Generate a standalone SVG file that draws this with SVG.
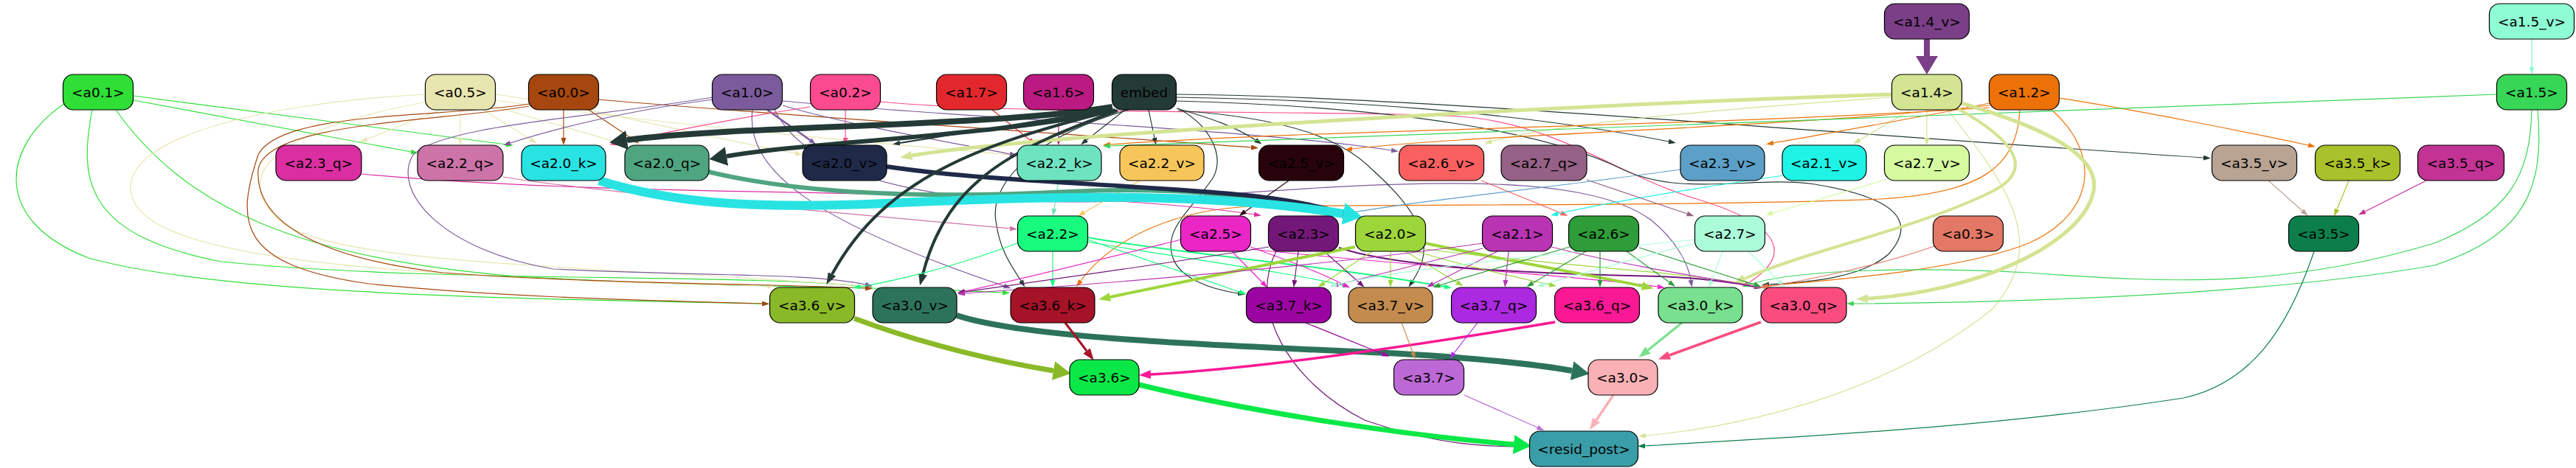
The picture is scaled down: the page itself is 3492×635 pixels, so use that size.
<svg xmlns="http://www.w3.org/2000/svg" width="3492" height="635" viewBox="0 0 3492 635">
<style>
.n rect{stroke:#000;stroke-width:1.2}
.n text{font-family:"DejaVu Sans","Liberation Sans",sans-serif;font-size:18.5px;text-anchor:middle;fill:#000}
</style>
<defs>
<marker id="s-embed" markerUnits="userSpaceOnUse" markerWidth="10" markerHeight="7" refX="0" refY="3.5" orient="auto"><path d="M0,0L10,3.5L0,7z" fill="#243a36"/></marker>
<marker id="m-embed" markerUnits="userSpaceOnUse" markerWidth="16" markerHeight="12" refX="0" refY="6" orient="auto"><path d="M0,0L16,6L0,12z" fill="#243a36"/></marker>
<marker id="l-embed" markerUnits="userSpaceOnUse" markerWidth="24" markerHeight="26" refX="0" refY="13" orient="auto"><path d="M0,0L24,13L0,26z" fill="#243a36"/></marker>
<marker id="l-a14v" markerUnits="userSpaceOnUse" markerWidth="25" markerHeight="30" refX="0" refY="15" orient="auto"><path d="M0,0L25,15L0,30z" fill="#7a3f86"/></marker>
<marker id="s-a15v" markerUnits="userSpaceOnUse" markerWidth="10" markerHeight="7" refX="0" refY="3.5" orient="auto"><path d="M0,0L10,3.5L0,7z" fill="#8efdd3"/></marker>
<marker id="s-a01" markerUnits="userSpaceOnUse" markerWidth="10" markerHeight="7" refX="0" refY="3.5" orient="auto"><path d="M0,0L10,3.5L0,7z" fill="#2fdf36"/></marker>
<marker id="s-a05" markerUnits="userSpaceOnUse" markerWidth="10" markerHeight="7" refX="0" refY="3.5" orient="auto"><path d="M0,0L10,3.5L0,7z" fill="#e8e6b0"/></marker>
<marker id="s-a00" markerUnits="userSpaceOnUse" markerWidth="10" markerHeight="7" refX="0" refY="3.5" orient="auto"><path d="M0,0L10,3.5L0,7z" fill="#a5470f"/></marker>
<marker id="s-a10" markerUnits="userSpaceOnUse" markerWidth="10" markerHeight="7" refX="0" refY="3.5" orient="auto"><path d="M0,0L10,3.5L0,7z" fill="#7b5b9b"/></marker>
<marker id="s-a02" markerUnits="userSpaceOnUse" markerWidth="10" markerHeight="7" refX="0" refY="3.5" orient="auto"><path d="M0,0L10,3.5L0,7z" fill="#fb4b8f"/></marker>
<marker id="s-a17" markerUnits="userSpaceOnUse" markerWidth="10" markerHeight="7" refX="0" refY="3.5" orient="auto"><path d="M0,0L10,3.5L0,7z" fill="#e3282d"/></marker>
<marker id="s-a16" markerUnits="userSpaceOnUse" markerWidth="10" markerHeight="7" refX="0" refY="3.5" orient="auto"><path d="M0,0L10,3.5L0,7z" fill="#bb1a82"/></marker>
<marker id="s-a14" markerUnits="userSpaceOnUse" markerWidth="10" markerHeight="7" refX="0" refY="3.5" orient="auto"><path d="M0,0L10,3.5L0,7z" fill="#d3e493"/></marker>
<marker id="m-a14" markerUnits="userSpaceOnUse" markerWidth="16" markerHeight="12" refX="0" refY="6" orient="auto"><path d="M0,0L16,6L0,12z" fill="#d3e493"/></marker>
<marker id="s-a12" markerUnits="userSpaceOnUse" markerWidth="10" markerHeight="7" refX="0" refY="3.5" orient="auto"><path d="M0,0L10,3.5L0,7z" fill="#ec7208"/></marker>
<marker id="s-a15" markerUnits="userSpaceOnUse" markerWidth="10" markerHeight="7" refX="0" refY="3.5" orient="auto"><path d="M0,0L10,3.5L0,7z" fill="#38d657"/></marker>
<marker id="s-a35" markerUnits="userSpaceOnUse" markerWidth="10" markerHeight="7" refX="0" refY="3.5" orient="auto"><path d="M0,0L10,3.5L0,7z" fill="#0c7e4b"/></marker>
<marker id="s-a35v" markerUnits="userSpaceOnUse" markerWidth="10" markerHeight="7" refX="0" refY="3.5" orient="auto"><path d="M0,0L10,3.5L0,7z" fill="#b9a393"/></marker>
<marker id="s-a35k" markerUnits="userSpaceOnUse" markerWidth="10" markerHeight="7" refX="0" refY="3.5" orient="auto"><path d="M0,0L10,3.5L0,7z" fill="#a9c12a"/></marker>
<marker id="s-a35q" markerUnits="userSpaceOnUse" markerWidth="10" markerHeight="7" refX="0" refY="3.5" orient="auto"><path d="M0,0L10,3.5L0,7z" fill="#c23394"/></marker>
<marker id="s-a23q" markerUnits="userSpaceOnUse" markerWidth="10" markerHeight="7" refX="0" refY="3.5" orient="auto"><path d="M0,0L10,3.5L0,7z" fill="#db2ea1"/></marker>
<marker id="s-a22q" markerUnits="userSpaceOnUse" markerWidth="10" markerHeight="7" refX="0" refY="3.5" orient="auto"><path d="M0,0L10,3.5L0,7z" fill="#cc73a8"/></marker>
<marker id="l-a20k" markerUnits="userSpaceOnUse" markerWidth="26" markerHeight="30" refX="0" refY="15" orient="auto"><path d="M0,0L26,15L0,30z" fill="#29e3e3"/></marker>
<marker id="m-a20q" markerUnits="userSpaceOnUse" markerWidth="16" markerHeight="12" refX="0" refY="6" orient="auto"><path d="M0,0L16,6L0,12z" fill="#4fa580"/></marker>
<marker id="m-a20v" markerUnits="userSpaceOnUse" markerWidth="16" markerHeight="12" refX="0" refY="6" orient="auto"><path d="M0,0L16,6L0,12z" fill="#1f2a49"/></marker>
<marker id="s-a22k" markerUnits="userSpaceOnUse" markerWidth="10" markerHeight="7" refX="0" refY="3.5" orient="auto"><path d="M0,0L10,3.5L0,7z" fill="#6ee3c0"/></marker>
<marker id="s-a22v" markerUnits="userSpaceOnUse" markerWidth="10" markerHeight="7" refX="0" refY="3.5" orient="auto"><path d="M0,0L10,3.5L0,7z" fill="#f7c65a"/></marker>
<marker id="s-a25v" markerUnits="userSpaceOnUse" markerWidth="10" markerHeight="7" refX="0" refY="3.5" orient="auto"><path d="M0,0L10,3.5L0,7z" fill="#28030b"/></marker>
<marker id="s-a26v" markerUnits="userSpaceOnUse" markerWidth="10" markerHeight="7" refX="0" refY="3.5" orient="auto"><path d="M0,0L10,3.5L0,7z" fill="#fa6060"/></marker>
<marker id="s-a27q" markerUnits="userSpaceOnUse" markerWidth="10" markerHeight="7" refX="0" refY="3.5" orient="auto"><path d="M0,0L10,3.5L0,7z" fill="#956186"/></marker>
<marker id="s-a23v" markerUnits="userSpaceOnUse" markerWidth="10" markerHeight="7" refX="0" refY="3.5" orient="auto"><path d="M0,0L10,3.5L0,7z" fill="#5ca0c8"/></marker>
<marker id="s-a21v" markerUnits="userSpaceOnUse" markerWidth="10" markerHeight="7" refX="0" refY="3.5" orient="auto"><path d="M0,0L10,3.5L0,7z" fill="#1ef3e6"/></marker>
<marker id="s-a27v" markerUnits="userSpaceOnUse" markerWidth="10" markerHeight="7" refX="0" refY="3.5" orient="auto"><path d="M0,0L10,3.5L0,7z" fill="#d5fa9f"/></marker>
<marker id="s-a22" markerUnits="userSpaceOnUse" markerWidth="10" markerHeight="7" refX="0" refY="3.5" orient="auto"><path d="M0,0L10,3.5L0,7z" fill="#19fb7f"/></marker>
<marker id="s-a25" markerUnits="userSpaceOnUse" markerWidth="10" markerHeight="7" refX="0" refY="3.5" orient="auto"><path d="M0,0L10,3.5L0,7z" fill="#ea26c5"/></marker>
<marker id="s-a23" markerUnits="userSpaceOnUse" markerWidth="10" markerHeight="7" refX="0" refY="3.5" orient="auto"><path d="M0,0L10,3.5L0,7z" fill="#731878"/></marker>
<marker id="s-a20" markerUnits="userSpaceOnUse" markerWidth="10" markerHeight="7" refX="0" refY="3.5" orient="auto"><path d="M0,0L10,3.5L0,7z" fill="#9dd63a"/></marker>
<marker id="m-a20" markerUnits="userSpaceOnUse" markerWidth="16" markerHeight="12" refX="0" refY="6" orient="auto"><path d="M0,0L16,6L0,12z" fill="#9dd63a"/></marker>
<marker id="s-a21" markerUnits="userSpaceOnUse" markerWidth="10" markerHeight="7" refX="0" refY="3.5" orient="auto"><path d="M0,0L10,3.5L0,7z" fill="#b934b2"/></marker>
<marker id="s-a26" markerUnits="userSpaceOnUse" markerWidth="10" markerHeight="7" refX="0" refY="3.5" orient="auto"><path d="M0,0L10,3.5L0,7z" fill="#2e9c39"/></marker>
<marker id="s-a27" markerUnits="userSpaceOnUse" markerWidth="10" markerHeight="7" refX="0" refY="3.5" orient="auto"><path d="M0,0L10,3.5L0,7z" fill="#abfcd8"/></marker>
<marker id="s-a03" markerUnits="userSpaceOnUse" markerWidth="10" markerHeight="7" refX="0" refY="3.5" orient="auto"><path d="M0,0L10,3.5L0,7z" fill="#e37866"/></marker>
<marker id="l-a36v" markerUnits="userSpaceOnUse" markerWidth="24" markerHeight="26" refX="0" refY="13" orient="auto"><path d="M0,0L24,13L0,26z" fill="#8ab928"/></marker>
<marker id="l-a30v" markerUnits="userSpaceOnUse" markerWidth="24" markerHeight="26" refX="0" refY="13" orient="auto"><path d="M0,0L24,13L0,26z" fill="#2d735b"/></marker>
<marker id="m-a36k" markerUnits="userSpaceOnUse" markerWidth="16" markerHeight="12" refX="0" refY="6" orient="auto"><path d="M0,0L16,6L0,12z" fill="#a61228"/></marker>
<marker id="m-a36q" markerUnits="userSpaceOnUse" markerWidth="16" markerHeight="12" refX="0" refY="6" orient="auto"><path d="M0,0L16,6L0,12z" fill="#fb1895"/></marker>
<marker id="m-a30k" markerUnits="userSpaceOnUse" markerWidth="16" markerHeight="12" refX="0" refY="6" orient="auto"><path d="M0,0L16,6L0,12z" fill="#78e08e"/></marker>
<marker id="m-a30q" markerUnits="userSpaceOnUse" markerWidth="16" markerHeight="12" refX="0" refY="6" orient="auto"><path d="M0,0L16,6L0,12z" fill="#fb4c7f"/></marker>
<marker id="s-a37k" markerUnits="userSpaceOnUse" markerWidth="10" markerHeight="7" refX="0" refY="3.5" orient="auto"><path d="M0,0L10,3.5L0,7z" fill="#9c04a1"/></marker>
<marker id="s-a37v" markerUnits="userSpaceOnUse" markerWidth="10" markerHeight="7" refX="0" refY="3.5" orient="auto"><path d="M0,0L10,3.5L0,7z" fill="#c48b4f"/></marker>
<marker id="s-a37q" markerUnits="userSpaceOnUse" markerWidth="10" markerHeight="7" refX="0" refY="3.5" orient="auto"><path d="M0,0L10,3.5L0,7z" fill="#ab29e0"/></marker>
<marker id="l-a36" markerUnits="userSpaceOnUse" markerWidth="24" markerHeight="26" refX="0" refY="13" orient="auto"><path d="M0,0L24,13L0,26z" fill="#0ae847"/></marker>
<marker id="s-a37" markerUnits="userSpaceOnUse" markerWidth="10" markerHeight="7" refX="0" refY="3.5" orient="auto"><path d="M0,0L10,3.5L0,7z" fill="#bc69d6"/></marker>
<marker id="m-a30" markerUnits="userSpaceOnUse" markerWidth="16" markerHeight="12" refX="0" refY="6" orient="auto"><path d="M0,0L16,6L0,12z" fill="#f9b1b5"/></marker>
</defs>
<rect width="3492" height="635" fill="#fff"/>
<g id="connectors" fill="none" stroke-width="1.2">
<path d="M181,130 L686,196" stroke="#2fdf36" marker-end="url(#s-a01)"/>
<path d="M181,136 L557,206" stroke="#2fdf36" marker-end="url(#s-a01)"/>
<path d="M88,140 C0,200 -10,300 120,350 C300,400 700,405 1033,412" stroke="#2fdf36" marker-end="url(#s-a01)"/>
<path d="M125,149 C105,250 120,320 300,355 C600,385 1000,370 1173,389" stroke="#2fdf36" marker-end="url(#s-a01)"/>
<path d="M157,149 C250,280 400,350 700,375 C1000,392 1200,388 1359,397" stroke="#2fdf36" marker-end="url(#s-a01)"/>
<path d="M597,149 L497,189" stroke="#e8e6b0" marker-end="url(#s-a05)"/>
<path d="M624,149 L624,187" stroke="#e8e6b0" marker-end="url(#s-a05)"/>
<path d="M655,149 L719,189" stroke="#e8e6b0" marker-end="url(#s-a05)"/>
<path d="M672,128 C800,145 950,185 1078,208" stroke="#e8e6b0" marker-end="url(#s-a05)"/>
<path d="M672,136 C900,170 1200,195 1369,210" stroke="#e8e6b0" marker-end="url(#s-a05)"/>
<path d="M672,145 L840,194" stroke="#e8e6b0" marker-end="url(#s-a05)"/>
<path d="M577,128 C350,140 150,190 180,270 C210,350 500,375 1040,388" stroke="#e8e6b0" marker-end="url(#s-a05)"/>
<path d="M580,138 C400,170 300,230 380,300 C450,360 800,360 1173,388" stroke="#e8e6b0" marker-end="url(#s-a05)"/>
<path d="M764,149 L764,187" stroke="#a5470f" marker-end="url(#s-a00)"/>
<path d="M798,149 L858,189" stroke="#a5470f" marker-end="url(#s-a00)"/>
<path d="M811,135 C1100,160 1500,185 1696,200" stroke="#a5470f" marker-end="url(#s-a00)"/>
<path d="M717,141 C600,160 380,150 350,210 C320,300 320,360 500,385 C700,405 900,408 1033,412" stroke="#a5470f" marker-end="url(#s-a00)"/>
<path d="M717,144 C600,165 360,165 350,230 C345,300 430,350 600,370 C800,385 1050,385 1173,391" stroke="#a5470f" marker-end="url(#s-a00)"/>
<path d="M1040,149 L1098,190" stroke="#7b5b9b" stroke-width="2.5" marker-end="url(#s-a10)"/>
<path d="M1061,143 C1150,170 1300,195 1369,209" stroke="#7b5b9b" marker-end="url(#s-a10)"/>
<path d="M966,135 C850,150 750,175 692,194" stroke="#7b5b9b" marker-end="url(#s-a10)"/>
<path d="M1061,137 C1300,160 1700,175 1886,204" stroke="#7b5b9b" marker-end="url(#s-a10)"/>
<path d="M1020,149 C1010,230 1100,300 1361,388" stroke="#7b5b9b" marker-end="url(#s-a10)"/>
<path d="M966,132 C800,160 600,170 560,210 C530,260 600,340 750,365 C950,375 1100,370 1173,386" stroke="#7b5b9b" marker-end="url(#s-a10)"/>
<path d="M1050,149 C1100,250 1300,290 1600,268 C1900,245 2150,230 2240,300 C2270,325 2288,355 2292,380" stroke="#7b5b9b" marker-end="url(#s-a10)"/>
<path d="M1146,149 L1146,187" stroke="#fb4b8f" marker-end="url(#s-a02)"/>
<path d="M1098,145 C1000,160 900,180 836,194" stroke="#fb4b8f" marker-end="url(#s-a02)"/>
<path d="M1193,138 C1400,158 1900,148 2000,160 C2120,175 2200,240 2300,270 C2400,300 2440,340 2370,384" stroke="#fb4b8f" marker-end="url(#s-a02)"/>
<path d="M1345,149 L1396,190" stroke="#e3282d" marker-end="url(#s-a17)"/>
<path d="M1435,149 L1435,187" stroke="#bb1a82" marker-end="url(#s-a16)"/>
<path d="M1508,148 C1400,165 1290,182 1220,194" stroke="#243a36" stroke-width="2.2" marker-end="url(#s-embed)"/>
<path d="M1525,149 L1473,190" stroke="#243a36" marker-end="url(#s-embed)"/>
<path d="M1557,149 L1565,187" stroke="#243a36" marker-end="url(#s-embed)"/>
<path d="M1595,147 C1640,160 1675,172 1702,190" stroke="#243a36" marker-end="url(#s-embed)"/>
<path d="M1594,132 C1800,135 2050,150 2262,192" stroke="#243a36" marker-end="url(#s-embed)"/>
<path d="M1594,128 C1900,130 2400,175 2987,214" stroke="#243a36" marker-end="url(#s-embed)"/>
<path d="M1594,137 C1900,145 2100,180 2200,230 C2280,268 2380,238 2460,250 C2570,268 2600,300 2560,345 C2520,380 2440,383 2398,386" stroke="#243a36" marker-end="url(#s-embed)"/>
<path d="M1530,149 C1420,180 1340,240 1350,300 C1355,340 1372,362 1384,381" stroke="#243a36" marker-end="url(#s-embed)"/>
<path d="M1597,147 C1640,170 1660,210 1645,240 C1620,280 1575,310 1590,350 C1600,378 1640,392 1678,398" stroke="#243a36" marker-end="url(#s-embed)"/>
<path d="M1597,150 C1750,160 1820,190 1860,230 C1950,310 1935,350 1915,381" stroke="#243a36" marker-end="url(#s-embed)"/>
<path d="M2565,132 C2300,150 2100,170 2022,192" stroke="#d3e493" marker-end="url(#s-a14)"/>
<path d="M2590,149 L2521,190" stroke="#d3e493" marker-end="url(#s-a14)"/>
<path d="M2612,149 L2612,187" stroke="#d3e493" marker-end="url(#s-a14)"/>
<path d="M2640,149 C2720,250 2780,330 2700,420 C2550,540 2350,580 2231,591" stroke="#d3e493" marker-end="url(#s-a14)"/>
<path d="M2697,140 C2600,160 2470,182 2404,194" stroke="#ec7208" marker-end="url(#s-a12)"/>
<path d="M2697,143 C2400,175 2000,182 1833,202" stroke="#ec7208" marker-end="url(#s-a12)"/>
<path d="M2697,146 C2300,172 1800,175 1505,196" stroke="#ec7208" marker-end="url(#s-a12)"/>
<path d="M2791,133 C2900,150 3050,180 3129,197" stroke="#ec7208" marker-end="url(#s-a12)"/>
<path d="M2738,149 C2735,230 2680,262 2550,270 C2300,280 1900,277 1700,280 C1600,283 1510,320 1465,381" stroke="#ec7208" marker-end="url(#s-a12)"/>
<path d="M2781,149 C2850,210 2840,290 2750,330 C2650,370 2450,382 2397,388" stroke="#ec7208" marker-end="url(#s-a12)"/>
<path d="M3385,128 C2800,150 2000,180 1505,198" stroke="#38d657" marker-end="url(#s-a15)"/>
<path d="M3440,149 C3450,260 3420,320 3300,360 C3100,395 2800,410 2513,412" stroke="#38d657" marker-end="url(#s-a15)"/>
<path d="M3432,149 C3430,240 3400,290 3300,330 C3100,390 2950,385 2750,370 C2550,360 2420,370 2372,386" stroke="#38d657" marker-end="url(#s-a15)"/>
<path d="M3432,53 L3432,91" stroke="#8efdd3" stroke-width="1.5" marker-end="url(#s-a15v)"/>
<path d="M3137,341 C3100,450 3050,520 2960,540 C2700,580 2450,592 2230,605" stroke="#0c7e4b" marker-end="url(#s-a35)"/>
<path d="M3075,245 L3121,286" stroke="#b9a393" marker-end="url(#s-a35v)"/>
<path d="M3184,245 L3168,284" stroke="#a9c12a" marker-end="url(#s-a35k)"/>
<path d="M3289,245 L3206,287" stroke="#c23394" marker-end="url(#s-a35q)"/>
<path d="M490,236 C800,265 1200,258 1500,272 C1600,278 1660,285 1700,291" stroke="#db2ea1" marker-end="url(#s-a23q)"/>
<path d="M682,240 C800,260 1100,285 1369,310" stroke="#cc73a8" marker-end="url(#s-a22q)"/>
<path d="M1435,245 L1429,283" stroke="#6ee3c0" marker-end="url(#s-a22k)"/>
<path d="M1545,245 L1470,288" stroke="#f7c65a" marker-end="url(#s-a22v)"/>
<path d="M1747,245 L1688,287" stroke="#28030b" marker-end="url(#s-a25v)"/>
<path d="M2008,245 L2116,289" stroke="#fa6060" marker-end="url(#s-a26v)"/>
<path d="M2418,238 C2300,255 2180,275 2112,290" stroke="#1ef3e6" marker-end="url(#s-a21v)"/>
<path d="M2151,244 L2287,290" stroke="#956186" marker-end="url(#s-a27q)"/>
<path d="M2556,244 L2403,289" stroke="#d5fa9f" marker-end="url(#s-a27v)"/>
<path d="M2278,230 C2100,255 1900,275 1825,290" stroke="#5ca0c8" marker-end="url(#s-a23v)"/>
<path d="M960,233 C1080,262 1250,270 1450,260 C1620,252 1720,270 1820,290" stroke="#4fa580" stroke-width="6" marker-end="url(#m-a20q)"/>
<path d="M1202,226 C1350,248 1550,250 1700,266 C1760,273 1800,283 1822,290" stroke="#1f2a49" stroke-width="6" marker-end="url(#m-a20v)"/>
<path d="M812,245 C900,272 1000,285 1200,276 C1450,264 1650,262 1821,290" stroke="#29e3e3" stroke-width="12" marker-end="url(#l-a20k)"/>
<path d="M2565,128 C2200,140 1800,162 1500,184 C1350,196 1270,205 1236,211" stroke="#d3e493" stroke-width="5" marker-end="url(#m-a14)"/>
<path d="M2659,140 C2760,170 2860,210 2835,270 C2810,335 2680,395 2532,405" stroke="#d3e493" stroke-width="5" marker-end="url(#m-a14)"/>
<path d="M2655,148 C2730,190 2760,230 2700,260 C2600,310 2450,340 2365,378" stroke="#d3e493" stroke-width="4" marker-end="url(#m-a14)"/>
<path d="M1508,145 C1350,172 1000,170 850,190" stroke="#243a36" stroke-width="8" marker-end="url(#l-embed)"/>
<path d="M1508,150 C1350,185 1100,192 985,212" stroke="#243a36" stroke-width="6" marker-end="url(#l-embed)"/>
<path d="M1512,149 C1330,195 1200,240 1128,372" stroke="#243a36" stroke-width="4" marker-end="url(#m-embed)"/>
<path d="M1515,150 C1380,200 1285,240 1251,372" stroke="#243a36" stroke-width="4" marker-end="url(#m-embed)"/>
<path d="M2612,53 L2612,76" stroke="#7a3f86" stroke-width="8" marker-end="url(#l-a14v)"/>
<path d="M1427,341 L1427,380" stroke="#19fb7f" marker-end="url(#s-a22)"/>
<path d="M1379,330 C1300,360 1220,380 1166,389" stroke="#19fb7f" marker-end="url(#s-a22)"/>
<path d="M1474,325 L1680,396" stroke="#19fb7f" marker-end="url(#s-a22)"/>
<path d="M1474,328 C1600,350 1750,370 1820,387" stroke="#19fb7f" marker-end="url(#s-a22)"/>
<path d="M1474,322 C1600,345 1800,360 1958,389" stroke="#19fb7f" stroke-width="2" marker-end="url(#s-a22)"/>
<path d="M1601,325 C1500,350 1380,380 1308,395" stroke="#ea26c5" marker-end="url(#s-a25)"/>
<path d="M1670,341 L1711,383" stroke="#ea26c5" marker-end="url(#s-a25)"/>
<path d="M1695,335 C1750,355 1790,370 1821,386" stroke="#ea26c5" marker-end="url(#s-a25)"/>
<path d="M1695,338 C1900,360 2150,375 2247,389" stroke="#ea26c5" marker-end="url(#s-a25)"/>
<path d="M1760,341 L1755,380" stroke="#731878" marker-end="url(#s-a23)"/>
<path d="M1795,341 L1842,383" stroke="#731878" marker-end="url(#s-a23)"/>
<path d="M1720,335 C1600,355 1420,380 1308,396" stroke="#731878" marker-end="url(#s-a23)"/>
<path d="M1815,336 C1900,365 2100,372 2250,375 C2300,377 2350,383 2378,389" stroke="#731878" stroke-width="2" marker-end="url(#s-a23)"/>
<path d="M1730,341 C1690,420 1750,520 1850,570 C1950,605 2020,606 2063,606" stroke="#731878" marker-end="url(#s-a23)"/>
<path d="M1885,341 L1885,380" stroke="#9dd63a" marker-end="url(#s-a20)"/>
<path d="M1860,341 L1795,384" stroke="#9dd63a" marker-end="url(#s-a20)"/>
<path d="M1905,341 L1975,383" stroke="#9dd63a" marker-end="url(#s-a20)"/>
<path d="M1920,341 C1980,360 2050,375 2100,386" stroke="#9dd63a" marker-end="url(#s-a20)"/>
<path d="M1932,338 C2100,360 2300,370 2378,388" stroke="#9dd63a" marker-end="url(#s-a20)"/>
<path d="M1837,335 C1720,358 1580,388 1505,403" stroke="#9dd63a" stroke-width="4" marker-end="url(#m-a20)"/>
<path d="M1932,330 C2050,355 2150,372 2226,388" stroke="#9dd63a" stroke-width="4" marker-end="url(#m-a20)"/>
<path d="M2045,341 L2041,380" stroke="#b934b2" marker-end="url(#s-a21)"/>
<path d="M2010,337 L1814,386" stroke="#b934b2" marker-end="url(#s-a21)"/>
<path d="M2030,341 L1943,385" stroke="#b934b2" marker-end="url(#s-a21)"/>
<path d="M2010,330 C1800,360 1500,385 1308,398" stroke="#b934b2" marker-end="url(#s-a21)"/>
<path d="M2103,335 C2200,360 2320,378 2378,388" stroke="#b934b2" marker-end="url(#s-a21)"/>
<path d="M2169,341 L2169,380" stroke="#2e9c39" marker-end="url(#s-a26)"/>
<path d="M2150,341 L2078,384" stroke="#2e9c39" marker-end="url(#s-a26)"/>
<path d="M2128,335 C2060,355 1990,375 1952,387" stroke="#2e9c39" marker-end="url(#s-a26)"/>
<path d="M2205,341 L2263,383" stroke="#2e9c39" marker-end="url(#s-a26)"/>
<path d="M2222,336 L2378,386" stroke="#2e9c39" marker-end="url(#s-a26)"/>
<path d="M2335,341 L2320,381" stroke="#abfcd8" marker-end="url(#s-a27)"/>
<path d="M2370,341 L2412,382" stroke="#abfcd8" marker-end="url(#s-a27)"/>
<path d="M2298,330 C2200,355 2130,375 2093,386" stroke="#abfcd8" marker-end="url(#s-a27)"/>
<path d="M2298,325 C2100,345 1900,365 1812,386" stroke="#abfcd8" marker-end="url(#s-a27)"/>
<path d="M2625,333 C2550,360 2450,380 2395,389" stroke="#e37866" marker-end="url(#s-a03)"/>
<path d="M1158,432 C1260,470 1360,492 1428,503" stroke="#8ab928" stroke-width="7" marker-end="url(#l-a36v)"/>
<path d="M1297,428 C1400,462 1700,470 1900,480 C2000,486 2080,494 2131,503" stroke="#2d735b" stroke-width="8" marker-end="url(#l-a30v)"/>
<path d="M1444,438 L1473,476" stroke="#a61228" stroke-width="3" marker-end="url(#m-a36k)"/>
<path d="M2108,437 C1900,472 1700,500 1560,508" stroke="#fb1895" stroke-width="3.5" marker-end="url(#m-a36q)"/>
<path d="M2280,438 L2234,475" stroke="#78e08e" stroke-width="3" marker-end="url(#m-a30k)"/>
<path d="M2387,437 L2263,482" stroke="#fb4c7f" stroke-width="3.5" marker-end="url(#m-a30q)"/>
<path d="M1770,438 L1874,480" stroke="#9c04a1" marker-end="url(#s-a37k)"/>
<path d="M1900,438 L1915,478" stroke="#c48b4f" marker-end="url(#s-a37v)"/>
<path d="M2003,438 L1971,479" stroke="#ab29e0" marker-end="url(#s-a37q)"/>
<path d="M1544,522 C1700,560 1900,590 2052,603" stroke="#0ae847" stroke-width="7" marker-end="url(#l-a36)"/>
<path d="M1985,536 L2084,580" stroke="#bc69d6" marker-end="url(#s-a37)"/>
<path d="M2187,536 L2164,570" stroke="#f9b1b5" stroke-width="3.5" marker-end="url(#m-a30)"/>
</g>
<g id="a1_4_v" class="n"><rect x="2554.5" y="5" width="115" height="48" rx="14" fill="#7a3f86"/><text x="2612" y="35.5">&lt;a1.4_v&gt;</text></g>
<g id="a1_5_v" class="n"><rect x="3374.5" y="5" width="115" height="48" rx="14" fill="#8efdd3"/><text x="3432" y="35.5">&lt;a1.5_v&gt;</text></g>
<g id="a0_1" class="n"><rect x="85.5" y="101" width="95" height="48" rx="14" fill="#2fdf36"/><text x="133" y="131.5">&lt;a0.1&gt;</text></g>
<g id="a0_5" class="n"><rect x="576.5" y="101" width="95" height="48" rx="14" fill="#e8e6b0"/><text x="624" y="131.5">&lt;a0.5&gt;</text></g>
<g id="a0_0" class="n"><rect x="716.5" y="101" width="95" height="48" rx="14" fill="#a5470f"/><text x="764" y="131.5">&lt;a0.0&gt;</text></g>
<g id="a1_0" class="n"><rect x="965.5" y="101" width="95" height="48" rx="14" fill="#7b5b9b"/><text x="1013" y="131.5">&lt;a1.0&gt;</text></g>
<g id="a0_2" class="n"><rect x="1098.5" y="101" width="95" height="48" rx="14" fill="#fb4b8f"/><text x="1146" y="131.5">&lt;a0.2&gt;</text></g>
<g id="a1_7" class="n"><rect x="1269.5" y="101" width="95" height="48" rx="14" fill="#e3282d"/><text x="1317" y="131.5">&lt;a1.7&gt;</text></g>
<g id="a1_6" class="n"><rect x="1387.5" y="101" width="95" height="48" rx="14" fill="#bb1a82"/><text x="1435" y="131.5">&lt;a1.6&gt;</text></g>
<g id="embed" class="n"><rect x="1507.5" y="101" width="87" height="48" rx="14" fill="#243a36"/><text x="1551" y="131.5">embed</text></g>
<g id="a1_4" class="n"><rect x="2564.5" y="101" width="95" height="48" rx="14" fill="#d3e493"/><text x="2612" y="131.5">&lt;a1.4&gt;</text></g>
<g id="a1_2" class="n"><rect x="2696.5" y="101" width="95" height="48" rx="14" fill="#ec7208"/><text x="2744" y="131.5">&lt;a1.2&gt;</text></g>
<g id="a1_5" class="n"><rect x="3384.5" y="101" width="95" height="48" rx="14" fill="#38d657"/><text x="3432" y="131.5">&lt;a1.5&gt;</text></g>
<g id="a2_3_q" class="n"><rect x="374" y="197" width="116" height="48" rx="14" fill="#db2ea1"/><text x="432" y="227.5">&lt;a2.3_q&gt;</text></g>
<g id="a2_2_q" class="n"><rect x="566" y="197" width="116" height="48" rx="14" fill="#cc73a8"/><text x="624" y="227.5">&lt;a2.2_q&gt;</text></g>
<g id="a2_0_k" class="n"><rect x="707" y="197" width="114" height="48" rx="14" fill="#29e3e3"/><text x="764" y="227.5">&lt;a2.0_k&gt;</text></g>
<g id="a2_0_q" class="n"><rect x="847" y="197" width="114" height="48" rx="14" fill="#4fa580"/><text x="904" y="227.5">&lt;a2.0_q&gt;</text></g>
<g id="a2_0_v" class="n"><rect x="1088" y="197" width="114" height="48" rx="14" fill="#1f2a49"/><text x="1145" y="227.5">&lt;a2.0_v&gt;</text></g>
<g id="a2_2_k" class="n"><rect x="1379" y="197" width="114" height="48" rx="14" fill="#6ee3c0"/><text x="1436" y="227.5">&lt;a2.2_k&gt;</text></g>
<g id="a2_2_v" class="n"><rect x="1518" y="197" width="114" height="48" rx="14" fill="#f7c65a"/><text x="1575" y="227.5">&lt;a2.2_v&gt;</text></g>
<g id="a2_5_v" class="n"><rect x="1706.5" y="197" width="115" height="48" rx="14" fill="#28030b"/><text x="1764" y="227.5">&lt;a2.5_v&gt;</text></g>
<g id="a2_6_v" class="n"><rect x="1896.5" y="197" width="115" height="48" rx="14" fill="#fa6060"/><text x="1954" y="227.5">&lt;a2.6_v&gt;</text></g>
<g id="a2_7_q" class="n"><rect x="2035" y="197" width="116" height="48" rx="14" fill="#956186"/><text x="2093" y="227.5">&lt;a2.7_q&gt;</text></g>
<g id="a2_3_v" class="n"><rect x="2278" y="197" width="114" height="48" rx="14" fill="#5ca0c8"/><text x="2335" y="227.5">&lt;a2.3_v&gt;</text></g>
<g id="a2_1_v" class="n"><rect x="2416" y="197" width="114" height="48" rx="14" fill="#1ef3e6"/><text x="2473" y="227.5">&lt;a2.1_v&gt;</text></g>
<g id="a2_7_v" class="n"><rect x="2554.5" y="197" width="115" height="48" rx="14" fill="#d5fa9f"/><text x="2612" y="227.5">&lt;a2.7_v&gt;</text></g>
<g id="a3_5_v" class="n"><rect x="2998.5" y="197" width="115" height="48" rx="14" fill="#b9a393"/><text x="3056" y="227.5">&lt;a3.5_v&gt;</text></g>
<g id="a3_5_k" class="n"><rect x="3138.5" y="197" width="115" height="48" rx="14" fill="#a9c12a"/><text x="3196" y="227.5">&lt;a3.5_k&gt;</text></g>
<g id="a3_5_q" class="n"><rect x="3277.5" y="197" width="117" height="48" rx="14" fill="#c23394"/><text x="3336" y="227.5">&lt;a3.5_q&gt;</text></g>
<g id="a2_2" class="n"><rect x="1379.5" y="293" width="95" height="48" rx="14" fill="#19fb7f"/><text x="1427" y="323.5">&lt;a2.2&gt;</text></g>
<g id="a2_5" class="n"><rect x="1600.5" y="293" width="95" height="48" rx="14" fill="#ea26c5"/><text x="1648" y="323.5">&lt;a2.5&gt;</text></g>
<g id="a2_3" class="n"><rect x="1719.5" y="293" width="95" height="48" rx="14" fill="#731878"/><text x="1767" y="323.5">&lt;a2.3&gt;</text></g>
<g id="a2_0" class="n"><rect x="1837.5" y="293" width="95" height="48" rx="14" fill="#9dd63a"/><text x="1885" y="323.5">&lt;a2.0&gt;</text></g>
<g id="a2_1" class="n"><rect x="2009.5" y="293" width="95" height="48" rx="14" fill="#b934b2"/><text x="2057" y="323.5">&lt;a2.1&gt;</text></g>
<g id="a2_6" class="n"><rect x="2126.5" y="293" width="95" height="48" rx="14" fill="#2e9c39"/><text x="2174" y="323.5">&lt;a2.6&gt;</text></g>
<g id="a2_7" class="n"><rect x="2297.5" y="293" width="95" height="48" rx="14" fill="#abfcd8"/><text x="2345" y="323.5">&lt;a2.7&gt;</text></g>
<g id="a0_3" class="n"><rect x="2620.5" y="293" width="95" height="48" rx="14" fill="#e37866"/><text x="2668" y="323.5">&lt;a0.3&gt;</text></g>
<g id="a3_5" class="n"><rect x="3102.5" y="293" width="95" height="48" rx="14" fill="#0c7e4b"/><text x="3150" y="323.5">&lt;a3.5&gt;</text></g>
<g id="a3_6_v" class="n"><rect x="1043.5" y="390" width="115" height="48" rx="14" fill="#8ab928"/><text x="1101" y="420.5">&lt;a3.6_v&gt;</text></g>
<g id="a3_0_v" class="n"><rect x="1183" y="390" width="114" height="48" rx="14" fill="#2d735b"/><text x="1240" y="420.5">&lt;a3.0_v&gt;</text></g>
<g id="a3_6_k" class="n"><rect x="1370" y="390" width="114" height="48" rx="14" fill="#a61228"/><text x="1427" y="420.5">&lt;a3.6_k&gt;</text></g>
<g id="a3_7_k" class="n"><rect x="1689.5" y="390" width="115" height="48" rx="14" fill="#9c04a1"/><text x="1747" y="420.5">&lt;a3.7_k&gt;</text></g>
<g id="a3_7_v" class="n"><rect x="1828" y="390" width="114" height="48" rx="14" fill="#c48b4f"/><text x="1885" y="420.5">&lt;a3.7_v&gt;</text></g>
<g id="a3_7_q" class="n"><rect x="1967.5" y="390" width="115" height="48" rx="14" fill="#ab29e0"/><text x="2025" y="420.5">&lt;a3.7_q&gt;</text></g>
<g id="a3_6_q" class="n"><rect x="2107.5" y="390" width="115" height="48" rx="14" fill="#fb1895"/><text x="2165" y="420.5">&lt;a3.6_q&gt;</text></g>
<g id="a3_0_k" class="n"><rect x="2248" y="390" width="114" height="48" rx="14" fill="#78e08e"/><text x="2305" y="420.5">&lt;a3.0_k&gt;</text></g>
<g id="a3_0_q" class="n"><rect x="2387" y="390" width="116" height="48" rx="14" fill="#fb4c7f"/><text x="2445" y="420.5">&lt;a3.0_q&gt;</text></g>
<g id="a3_6" class="n"><rect x="1450" y="488" width="94" height="48" rx="14" fill="#0ae847"/><text x="1497" y="518.5">&lt;a3.6&gt;</text></g>
<g id="a3_7" class="n"><rect x="1889.5" y="488" width="95" height="48" rx="14" fill="#bc69d6"/><text x="1937" y="518.5">&lt;a3.7&gt;</text></g>
<g id="a3_0" class="n"><rect x="2153" y="488" width="94" height="48" rx="14" fill="#f9b1b5"/><text x="2200" y="518.5">&lt;a3.0&gt;</text></g>
<g id="resid_post" class="n"><rect x="2073.5" y="585" width="147" height="48" rx="14" fill="#3a9ea8"/><text x="2147" y="615.5">&lt;resid_post&gt;</text></g>
</svg>
